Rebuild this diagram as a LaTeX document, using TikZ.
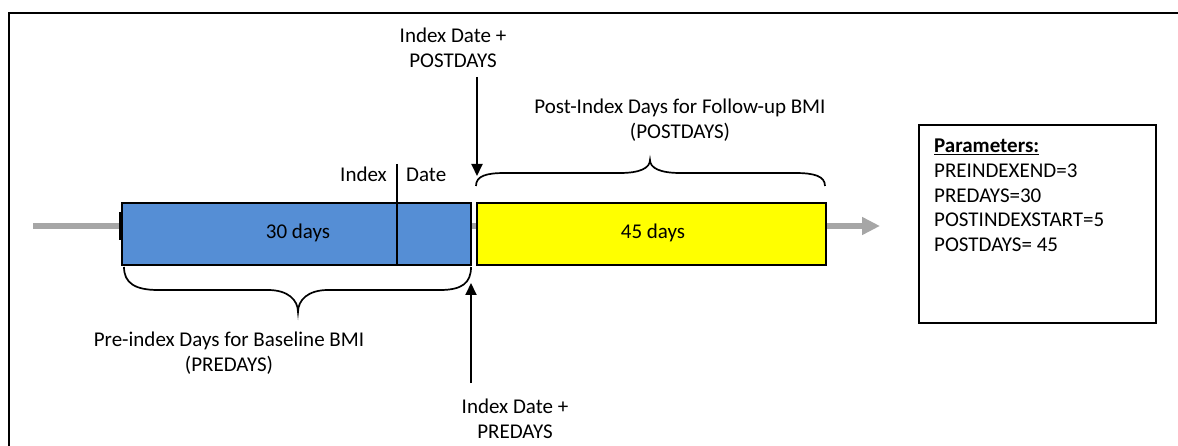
\documentclass[tikz,border=0pt]{standalone}
\usepackage{fontspec}
\setmainfont{Carlito}
\usetikzlibrary{arrows.meta}
\definecolor{boxblue}{RGB}{85,142,213}
\definecolor{boxyellow}{RGB}{255,255,0}
\definecolor{arrowgray}{RGB}{166,166,166}
\begin{document}
\begin{tikzpicture}[x=1pt,y=-1pt,
  txt/.style={font=\fontsize{21}{25.5}\selectfont, inner sep=0pt, align=center},
  bar/.style={draw=black, line width=2.4pt, minimum height=62pt, minimum width=349pt, inner sep=0pt, anchor=north west},
  brace/.style={draw=black, line width=1.7pt},
  pointer/.style={draw=black, line width=2pt, -{Triangle[length=12pt,width=11pt]}},
  timeline/.style={draw=arrowgray, line width=6pt, -{Triangle[length=18pt,width=17pt]}}]
\useasboundingbox (0,0) rectangle (1178,446);
% outer frame (cut at right and bottom)
\draw[line width=2.6pt] (9,446) -- (9,13) -- (1178,13);
% time line
\coordinate (tstart) at (33,226);
\coordinate (tend) at (880,226);
\draw[timeline] (tstart) -- (tend);
\coordinate (tickA) at (120,212);
\coordinate (tickB) at (120,240);
\draw[line width=3pt] (tickA) -- (tickB);
% bars
\node[bar, fill=boxblue] (pre) at (121,202) {};
\node[bar, fill=boxyellow] (post) at (476,202) {};
\node[txt] (d30) at (298,233) {30 days};
\node[txt] (d45) at (653,233) {45 days};
% index date line
\coordinate (idxtop) at (397,164);
\draw[line width=2.6pt] (idxtop) -- (idxtop |- pre.south);
\node[txt, anchor=base east] (idxw) at (387,182) {Index};
\node[txt, anchor=base west] (datew) at (406,182) {Date};
% top pointer
\node[txt] (postlbl) at (453,48) {Index Date +\\POSTDAYS};
\coordinate (ptop) at (477,77);
\coordinate (ptip) at (477,176);
\draw[pointer] (ptop) -- (ptip);
% bottom pointer
\node[txt] (prelbl) at (515,419) {Index Date +\\PREDAYS};
\coordinate (pbot) at (471,383);
\coordinate (pbtip) at (471,283);
\draw[pointer] (pbot) -- (pbtip);
% top brace
\node[txt] (postdays) at (680,120) {Post-Index Days for Follow-up BMI\\(POSTDAYS)};
\coordinate (tb1) at (476,186);
\coordinate (tb2) at (825,186);
\coordinate (tbtip) at (650,160);
\draw[brace] (tb1) .. controls (476,176) and (486,173) .. (505,173) -- (620,173)
  .. controls (640,173) and (650,168) .. (tbtip)
  .. controls (650,168) and (660,173) .. (680,173) -- (795,173)
  .. controls (814,173) and (825,176) .. (tb2);
% bottom brace
\node[txt] (predays) at (229,353) {Pre-index Days for Baseline BMI\\(PREDAYS)};
\coordinate (bb1) at (124,267);
\coordinate (bb2) at (471,267);
\coordinate (bbtip) at (298,312);
\draw[brace] (bb1) .. controls (124,283) and (135,290) .. (158,290) -- (268,290)
  .. controls (288,290) and (298,300) .. (bbtip)
  .. controls (298,300) and (308,290) .. (328,290) -- (440,290)
  .. controls (462,290) and (471,283) .. (bb2);
% parameters
\node[draw=black, line width=2.2pt, minimum width=237pt, minimum height=198pt, anchor=north west, inner sep=0pt] (params) at (918,124) {};
\node[txt, align=left, anchor=north west, font=\fontsize{21}{24.7}\selectfont] (paramtxt) at (934,139)
  {\textbf{\underline{Parameters:}}\\PREINDEXEND=3\\PREDAYS=30\\POSTINDEXSTART=5\\POSTDAYS= 45};
\end{tikzpicture}
\end{document}
